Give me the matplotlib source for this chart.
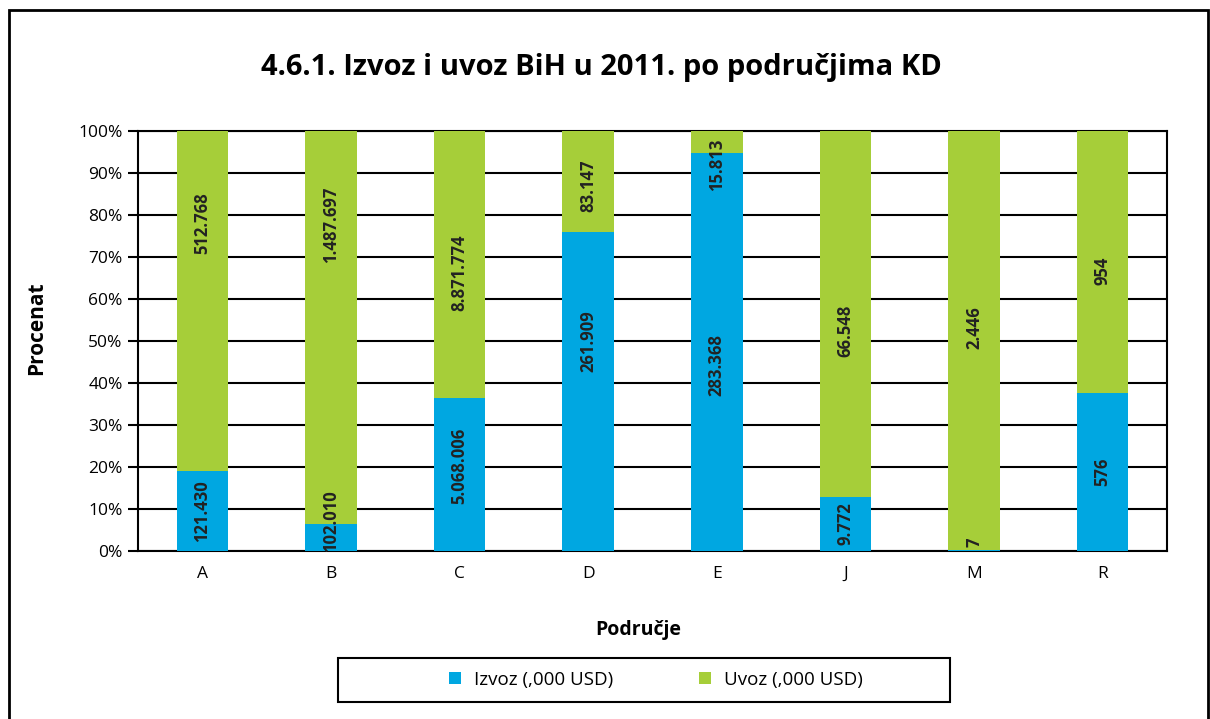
import numpy as np
import matplotlib.pyplot as plt
from matplotlib.patches import Rectangle

plt.rcParams['font.family'] = ['Open Sans', 'DejaVu Sans']

# data: Izvoz / Uvoz po podrucjima KD (,000 USD)
categories = ['A', 'B', 'C', 'D', 'E', 'J', 'M', 'R']
izvoz = [121430, 102010, 5068006, 261909, 283368, 9772, 7, 576]
uvoz = [512768, 1487697, 8871774, 83147, 15813, 66548, 2446, 954]

# hand-moved labels in the original (nudge in % points)
nudge_izvoz = [0, 4, 2, 12, -3, 0, 2, 0]
nudge_uvoz = [18.5, 24.5, -2, -1, -5.5, -4, 3, -2]

col_izvoz = '#00A7E1'
col_uvoz = '#A6CE39'

izvoz = np.array(izvoz, dtype=float)
uvoz = np.array(uvoz, dtype=float)
total = izvoz + uvoz
p_izvoz = izvoz / total * 100
p_uvoz = uvoz / total * 100

def fmt(v):
    return '{:,}'.format(int(v)).replace(',', '.')

fig = plt.figure(figsize=(12.1, 7.19), dpi=100)
ax = fig.add_axes([138/1210, 1 - 551/719, (1167-138)/1210, (551-131)/719])

x_pos = np.arange(len(categories))
ax.bar(x_pos, p_izvoz, width=0.4, color=col_izvoz, label='Izvoz (,000 USD)', zorder=3)
ax.bar(x_pos, p_uvoz, width=0.4, bottom=p_izvoz, color=col_uvoz, label='Uvoz (,000 USD)', zorder=3)

# value labels, rotated, centred in the segment
for i in range(len(categories)):
    ax.text(x_pos[i], p_izvoz[i] / 2 + nudge_izvoz[i], fmt(izvoz[i]), rotation=90,
            ha='center', va='center', fontsize=12, fontweight='bold', color='#222222', zorder=4)
    ax.text(x_pos[i], p_izvoz[i] + p_uvoz[i] / 2 + nudge_uvoz[i], fmt(uvoz[i]), rotation=90,
            ha='center', va='center', fontsize=12, fontweight='bold', color='#222222', zorder=4)

ax.set_xlim(-0.5, len(categories) - 0.5)
ax.set_ylim(0, 100)
ax.set_yticks(np.arange(0, 101, 10))
ax.set_yticklabels([f'{v}%' for v in range(0, 101, 10)], fontsize=12.5)
ax.set_xticks(x_pos)
ax.set_xticklabels(categories, fontsize=12.5)
ax.tick_params(axis='y', length=7, width=1.5, color='black', pad=4)
ax.tick_params(axis='x', length=0, pad=11)
ax.yaxis.grid(True, color='black', linewidth=1.5, zorder=0)
ax.set_axisbelow(True)
for s in ax.spines.values():
    s.set_linewidth(1.5)
    s.set_color('black')

fig.text(37/1210, 1 - 328/719, 'Procenat', rotation=90, ha='center', va='center',
         fontsize=15, fontweight='bold')
fig.text(638/1210, 1 - 630/719, 'Područje', ha='center', va='center',
         fontsize=14, fontweight='bold')

fig.text(601/1210, 1 - 68/719, '4.6.1. Izvoz i uvoz BiH u 2011. po područjima KD',
         ha='center', va='center', fontsize=21, fontweight='bold')

leg = fig.legend(loc='center', bbox_to_anchor=(350/1210, 1 - 702/719, (950-338)/1210, 44/719),
                 ncol=2, frameon=False, fontsize=13.5, handlelength=0.6,
                 handleheight=0.6, handletextpad=0.7, columnspacing=4.6, borderaxespad=0)

# legend box
fig.patches.append(Rectangle((338/1210, 1 - 702/719), (950-338)/1210, 44/719,
                             transform=fig.transFigure, fill=False, edgecolor='black', linewidth=1.5))

# outer chart border
fig.patches.append(Rectangle((9/1210, -0.05), (1208-9)/1210, 1 - 10/719 + 0.05,
                             transform=fig.transFigure, fill=False, edgecolor='black', linewidth=2))

plt.savefig('out.png', dpi=100)
